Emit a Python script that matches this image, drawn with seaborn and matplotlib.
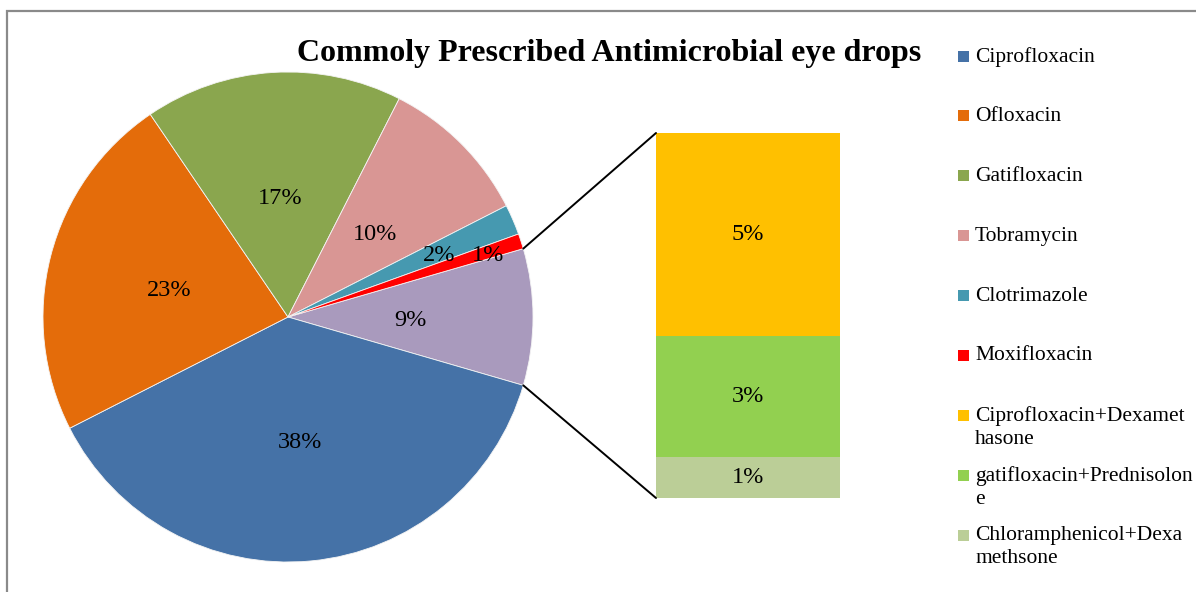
import numpy as np
import matplotlib
matplotlib.use("Agg")
import matplotlib.pyplot as plt
import seaborn as sns
import pandas as pd
from matplotlib.patches import ConnectionPatch, Rectangle

# ---- data -------------------------------------------------------------
pie_names = ["Ciprofloxacin", "Ofloxacin", "Gatifloxacin", "Tobramycin",
             "Clotrimazole", "Moxifloxacin"]
pie_values = [38, 23, 17, 10, 2, 1]
other_value = 9  # combined share that is broken out in the bar

bar_names = ["Ciprofloxacin+Dexamethasone", "gatifloxacin+Prednisolone",
             "Chloramphenicol+Dexamethsone"]
bar_values = [5, 3, 1]  # top to bottom

legend_labels = ["Ciprofloxacin", "Ofloxacin", "Gatifloxacin", "Tobramycin",
                 "Clotrimazole", "Moxifloxacin",
                 "Ciprofloxacin+Dexamet\nhasone",
                 "gatifloxacin+Prednisolon\ne",
                 "Chloramphenicol+Dexa\nmethsone"]

title = "Commoly Prescribed Antimicrobial eye drops"

# ---- styling ------------------------------------------------------------
pie_colors = ["#4572A7", "#E46C0A", "#8AA64E", "#D99694", "#4699B0", "#FF0000"]
other_color = "#A99ABD"
bar_colors = ["#FFC000", "#92D050", "#BBCE97"]

sns.set_style("white")
plt.rcParams["font.family"] = ["Liberation Serif", "DejaVu Serif"]

W, H = 1196, 592
fig = plt.figure(figsize=(W / 100, H / 100), dpi=100)


def px_axes(x0, y0, x1, y1):
    """Axes from pixel box (top-left origin)."""
    return fig.add_axes([x0 / W, 1 - y1 / H, (x1 - x0) / W, (y1 - y0) / H])


# ---- pie ----------------------------------------------------------------
pax = px_axes(43, 72, 533, 562)
values = [other_value] + pie_values
colors = [other_color] + pie_colors
start = other_value / 100 * 360 / 2
wedges, _ = pax.pie(values, colors=colors, startangle=start, counterclock=False,
                    wedgeprops=dict(linewidth=0.6, edgecolor="#f4f4f4"))
pax.set_xlim(-1, 1)
pax.set_ylim(-1, 1)
pax.set_aspect("equal")
pax.axis("off")

label_r = [0.5, 0.5, 0.5, 0.5, 0.5, 0.67, 0.86]
for w, v, r in zip(wedges, values, label_r):
    mid = np.deg2rad((w.theta1 + w.theta2) / 2)
    pax.text(r * np.cos(mid), r * np.sin(mid) - 0.015, f"{v}%", ha="center",
             va="center", fontsize=17.5, color="black")

# ---- stacked bar of the broken-out share --------------------------------
bax = px_axes(656, 133, 840, 498)
cum = np.cumsum(bar_values[::-1])[::-1]  # cumulative heights, top layer first
for height, c in zip(cum, bar_colors):
    sns.barplot(x=["combo"], y=[height], color=c, saturation=1, width=1,
                linewidth=0, ax=bax)
bax.set_xlim(-0.5, 0.5)
bax.set_ylim(0, cum[0])
bax.axis("off")
for height, v in zip(cum, bar_values):
    bax.text(0, height - v / 2, f"{v}%", ha="center", va="center",
             fontsize=17.5, color="black")

# connector lines between the broken-out wedge and the bar
ow = wedges[0]
top_ang, bot_ang = max(ow.theta1, ow.theta2), min(ow.theta1, ow.theta2)
for ang, ybar in [(top_ang, cum[0]), (bot_ang, 0)]:
    a = np.deg2rad(ang)
    con = ConnectionPatch(xyA=(np.cos(a), np.sin(a)), coordsA=pax.transData,
                          xyB=(-0.5, ybar), coordsB=bax.transData,
                          color="black", lw=1.4)
    fig.add_artist(con)

# ---- title --------------------------------------------------------------
fig.text(609 / W, 1 - 53 / H, title, ha="center", va="center",
         fontsize=23, fontweight="bold", color="black")

# ---- legend -------------------------------------------------------------
legend_colors = pie_colors + bar_colors
for i, (lab, c) in enumerate(zip(legend_labels, legend_colors)):
    yc = 56 + i * 59.9
    fig.add_artist(Rectangle((958 / W, 1 - (yc + 5.5) / H), 11 / W, 11 / H,
                             transform=fig.transFigure, facecolor=c,
                             edgecolor="none"))
    fig.text(975 / W, 1 - (yc - 9) / H, lab, ha="left", va="top",
             fontsize=15.5, color="black", linespacing=1.25)

# chart area border
fig.add_artist(Rectangle((7 / W, -0.1), 1.2, 1.1 - 11 / H,
                         transform=fig.transFigure, fill=False,
                         edgecolor="#8a8a8a", lw=1.6))

fig.savefig("out.png", dpi=100)
